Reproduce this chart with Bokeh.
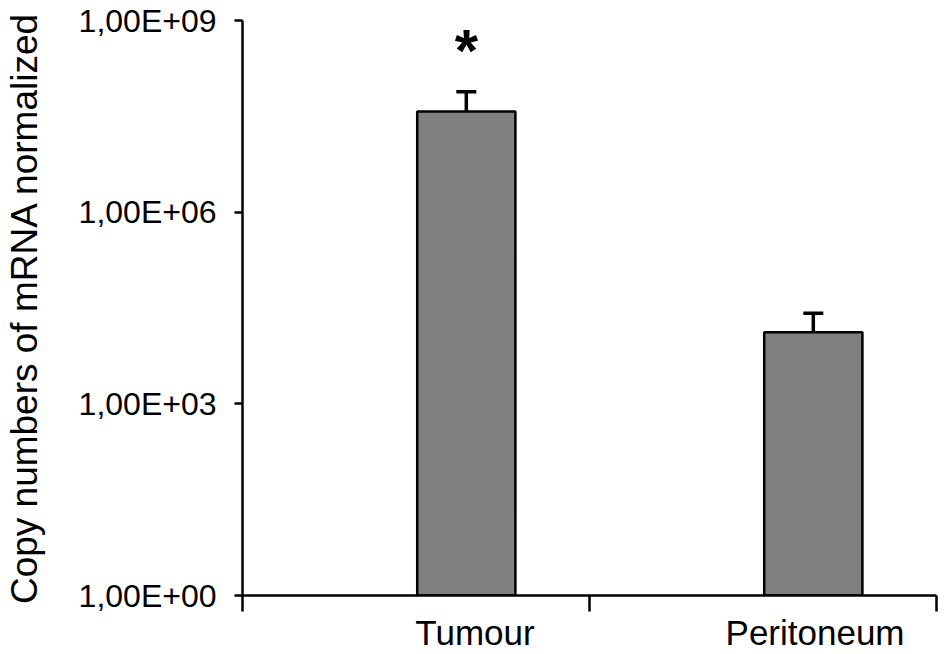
from bokeh.plotting import figure
from bokeh.models import FixedTicker, Whisker, TeeHead, ColumnDataSource
from bokeh.core.properties import value
from bokeh.embed import file_html
from bokeh.resources import INLINE

# ---- data ----
categories = ["Tumour", "Peritoneum"]
bar_x = [0.645, 1.645]
label_x = [0.67, 1.65]
means = [3.75e7, 1.32e4]
errors = [3.9e7, 1.29e4]
significance = ["*", ""]
y_ticks = [1.0, 1e3, 1e6, 1e9]
y_tick_labels = ["1,00E+00", "1,00E+03", "1,00E+06", "1,00E+09"]
boundaries = [0, 1, 2]

FONT = "Liberation Sans"

src = ColumnDataSource(dict(
    x=bar_x,
    top=means,
    upper=[m + e for m, e in zip(means, errors)],
    sig=significance,
))

p = figure(width=945, height=654, x_range=(0, 2), y_range=(1, 1e9),
           y_axis_type="log", output_backend="svg", toolbar_location=None,
           min_border_left=241, min_border_right=9, min_border_top=20,
           min_border_bottom=56)
p.outline_line_color = None
p.grid.visible = False
p.background_fill_color = "white"
p.border_fill_color = "white"

p.vbar(x="x", top="top", bottom=1, width=0.283, fill_color="#808080",
       line_color="black", line_width=2.5, source=src)

w = Whisker(base="x", lower="top", upper="upper", source=src, dimension="height",
            line_width=3.5, line_color="black",
            upper_head=TeeHead(size=20, line_width=3.5, line_color="black"),
            lower_head=None)
p.add_layout(w)

p.text(x="x", y="upper", text="sig", source=src, text_font=value(FONT),
       text_font_size="60px", text_font_style="bold", text_align="center",
       text_baseline="alphabetic", y_offset=-41, text_color="black")

# y axis
ya = p.yaxis[0]
ya.ticker = FixedTicker(ticks=y_ticks, minor_ticks=[])
ya.major_label_overrides = {t: l for t, l in zip(y_ticks, y_tick_labels)}
ya.major_tick_out = 8
ya.major_tick_in = 0
ya.minor_tick_out = 0
ya.minor_tick_in = 0
ya.major_tick_line_width = 2.5
ya.axis_line_width = 2.5
ya.major_label_standoff = 18
ya.major_label_text_font = FONT
ya.major_label_text_font_size = "32px"
ya.major_label_text_color = "black"
ya.axis_label = "Copy numbers of mRNA normalized"
ya.axis_label_text_font = FONT
ya.axis_label_text_font_size = "37px"
ya.axis_label_text_font_style = "normal"
ya.axis_label_text_color = "black"
ya.axis_label_standoff = 31

# x axis
xa = p.xaxis[0]
xa.ticker = FixedTicker(ticks=label_x, minor_ticks=boundaries)
xa.major_label_overrides = {t: c for t, c in zip(label_x, categories)}
xa.major_tick_out = 0
xa.major_tick_in = 0
xa.minor_tick_out = 16
xa.minor_tick_in = 0
xa.minor_tick_line_width = 2.5
xa.minor_tick_line_color = "black"
xa.axis_line_width = 2.5
xa.major_label_standoff = 1
xa.major_label_text_font = FONT
xa.major_label_text_font_size = "35px"
xa.major_label_text_line_height = 1.0
xa.major_label_text_color = "black"

open("out.html", "w").write(file_html(p, INLINE))
